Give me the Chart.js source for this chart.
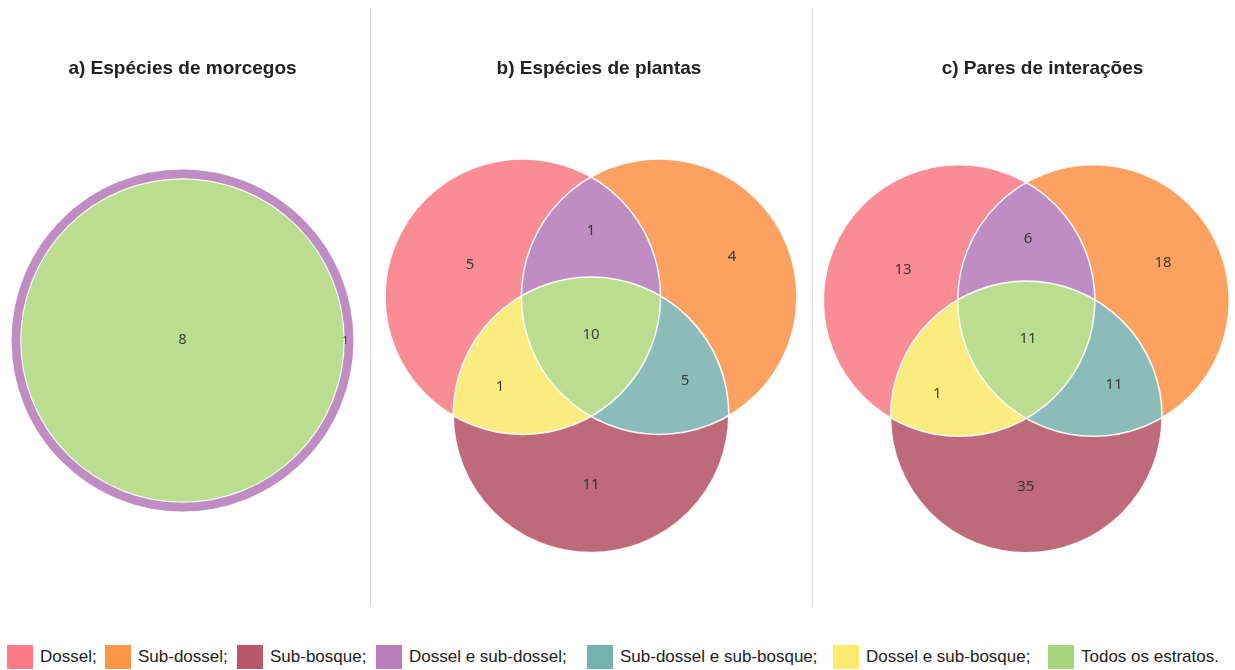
<!DOCTYPE html>
<html>
<head>
<meta charset="utf-8">
<script src="https://cdn.jsdelivr.net/npm/chart.js@4.4.1/dist/chart.umd.min.js"></script>
<style>
  body { margin: 0; width: 1235px; height: 670px; overflow: hidden; background: #fff; position: relative; font-family: "Liberation Sans", Arial, sans-serif; }
  canvas { position: absolute; top: 0; }
  .sep { position: absolute; top: 8px; height: 598px; width: 1px; background: #dadada; }
  .item { position: absolute; top: 645px; height: 24px; display: flex; align-items: center; font-size: 17px; color: #222; white-space: nowrap; }
  .sw { width: 26px; height: 24px; margin-right: 7px; }
</style>
</head>
<body>
<div class="sep" style="left:370px"></div>
<div class="sep" style="left:812px"></div>
<canvas id="chart-a"></canvas>
<canvas id="chart-b"></canvas>
<canvas id="chart-c"></canvas>
<div id="legend"></div>

<script>
// ── Dados ──
const regionNames = ['Dossel', 'Sub-dossel', 'Sub-bosque', 'Dossel e sub-dossel', 'Sub-dossel e sub-bosque', 'Dossel e sub-bosque', 'Todos os estratos'];
const legendLabels = ['Dossel;', 'Sub-dossel;', 'Sub-bosque;', 'Dossel e sub-dossel;', 'Sub-dossel e sub-bosque;', 'Dossel e sub-bosque;', 'Todos os estratos.'];
const panelTitles = ['a) Espécies de morcegos', 'b) Espécies de plantas', 'c) Pares de interações'];
const batValues   = [0, 0, 0, 1, 0, 0, 8];
const plantValues = [5, 4, 11, 1, 5, 1, 10];
const pairValues  = [13, 18, 35, 6, 11, 1, 11];

// ── Cores ──
const fillColors   = ['#f98c95', '#fca15f', '#be6a7a', '#bf8dc3', '#8bbcb9', '#fbec80', '#badd8f'];
const legendColors = ['#fb7b86', '#fd9549', '#b85868', '#b87dba', '#72b3ad', '#fde96f', '#a9d47f'];

// ── Layout (unidades do diagrama, raio = 1) ──
const TITLE_SIZE = 19, TITLE_TOP = 57, TITLE_BOTTOM = 10, CANVAS_H = 620;
const CHART_TOP = TITLE_TOP + TITLE_SIZE * 1.2 + TITLE_BOTTOM;
const SIDE = 0.99;
const threeCircles = [
  { x: -SIDE / 2, y: 0, r: 1 },
  { x: SIDE / 2, y: 0, r: 1 },
  { x: 0, y: -SIDE * Math.sqrt(3) / 2, r: 1 }
];
const plantLabelPos = [[-0.878, 0.23], [1.023, 0.288], [0, -1.366], [0, 0.477], [0.682, -0.612], [-0.66, -0.655], [0, -0.278]];
const pairLabelPos  = [[-0.908, 0.225], [1.007, 0.278], [-0.004, -1.371], [0.013, 0.453], [0.646, -0.622], [-0.655, -0.688], [0.013, -0.283]];
const batLabelPos   = [null, null, null, [0.95, 0], null, null, [0, 0]];
const batLabelSize  = [14, 14, 14, 11, 14, 14, 14];
const legendLeft    = [7, 105, 237, 376, 587, 833, 1048];

// camadas de preenchimento: círculo preenchido, recortado pelos círculos listados
const threeLayers = [
  { fill: 0, clip: [], region: 0 },
  { fill: 1, clip: [], region: 1 },
  { fill: 2, clip: [], region: 2 },
  { fill: 1, clip: [0], region: 3 },
  { fill: 2, clip: [1], region: 4 },
  { fill: 2, clip: [0], region: 5 },
  { fill: 2, clip: [0, 1], region: 6 }
];

const vennPlugin = {
  id: 'venn',
  beforeDatasetsDraw(chart, args, opts) {
    const { ctx, scales: { x, y } } = chart;
    const k = x.getPixelForValue(1) - x.getPixelForValue(0);
    const circles = opts.circles.map(c => ({
      px: x.getPixelForValue(c.x), py: y.getPixelForValue(c.y), pr: c.r * k
    }));
    const path = c => { ctx.beginPath(); ctx.arc(c.px, c.py, c.pr, 0, Math.PI * 2); };
    ctx.save();
    opts.layers.forEach(l => {
      ctx.save();
      l.clip.forEach(i => { path(circles[i]); ctx.clip(); });
      path(circles[l.fill]);
      ctx.fillStyle = fillColors[l.region];
      ctx.fill();
      ctx.restore();
    });
    ctx.strokeStyle = 'rgba(255,255,255,0.9)';
    ctx.lineWidth = opts.stroke;
    circles.forEach(c => { path(c); ctx.stroke(); });
    ctx.restore();
  },
  afterDatasetsDraw(chart) {
    const { ctx } = chart;
    const ds = chart.data.datasets[0];
    const meta = chart.getDatasetMeta(0);
    ctx.save();
    ctx.fillStyle = 'rgba(45,45,45,0.9)';
    ctx.textAlign = 'center';
    ctx.textBaseline = 'middle';
    meta.data.forEach((pt, i) => {
      ctx.font = ds.fontSizes[i] + 'px "Noto Sans", sans-serif';
      ctx.fillText(String(ds.values[i]), pt.x, pt.y);
    });
    ctx.restore();
  }
};

function makeVenn(id, title, values, labelPos, sizes, circles, layers, stroke, box) {
  const canvas = document.getElementById(id);
  canvas.width = box.width;
  canvas.height = CANVAS_H;
  canvas.style.left = box.left + 'px';

  const pts = [], vals = [], fonts = [];
  values.forEach((v, i) => {
    if (v > 0 && labelPos[i]) {
      pts.push({ x: labelPos[i][0], y: labelPos[i][1] });
      vals.push(v);
      fonts.push(sizes[i]);
    }
  });

  const k = box.unit;
  return new Chart(canvas.getContext('2d'), {
    type: 'scatter',
    data: {
      datasets: [{ label: title, data: pts, values: vals, fontSizes: fonts, pointRadius: 0 }]
    },
    options: {
      responsive: false,
      animation: false,
      layout: { padding: 0 },
      plugins: {
        legend: { display: false },
        tooltip: { enabled: false },
        title: {
          display: true,
          text: title,
          color: '#222',
          font: { family: '"Liberation Sans", Arial, sans-serif', size: TITLE_SIZE, weight: 'bold' },
          padding: { top: TITLE_TOP, bottom: TITLE_BOTTOM }
        },
        venn: { circles, layers, stroke }
      },
      scales: {
        x: { type: 'linear', display: false, min: (box.left - box.ox) / k, max: (box.left + box.width - box.ox) / k },
        y: { type: 'linear', display: false, min: (box.oy - CANVAS_H) / k, max: (box.oy - CHART_TOP) / k }
      }
    },
    plugins: [vennPlugin]
  });
}

// a) morcegos: círculo externo (9) e interno (8), áreas proporcionais
const batTotal = batValues[3] + batValues[6];
const batCircles = [
  { x: 0, y: 0, r: 1 },
  { x: 0, y: 0, r: Math.sqrt(batValues[6] / batTotal) }
];
const batLayers = [
  { fill: 0, clip: [], region: 3 },
  { fill: 1, clip: [], region: 6 }
];

makeVenn('chart-a', panelTitles[0], batValues, batLabelPos, batLabelSize, batCircles, batLayers, 1.2,
  { left: 0, width: 365, ox: 182.5, oy: 340.5, unit: 171.5 });
makeVenn('chart-b', panelTitles[1], plantValues, plantLabelPos, [15, 15, 15, 15, 15, 15, 15], threeCircles, threeLayers, 1.6,
  { left: 370, width: 458, ox: 591, oy: 296.7, unit: 137.8 });
makeVenn('chart-c', panelTitles[2], pairValues, pairLabelPos, [15, 15, 15, 15, 15, 15, 15], threeCircles, threeLayers, 1.6,
  { left: 812, width: 461, ox: 1026.3, oy: 300.5, unit: 135.8 });

// ── Legenda ──
document.getElementById('legend').innerHTML = legendLabels.map((l, i) => `
  <div class="item" style="left:${legendLeft[i]}px"><span class="sw" style="background:${legendColors[i]}"></span><span>${l}</span></div>
`).join('');
</script>
</body>
</html>
